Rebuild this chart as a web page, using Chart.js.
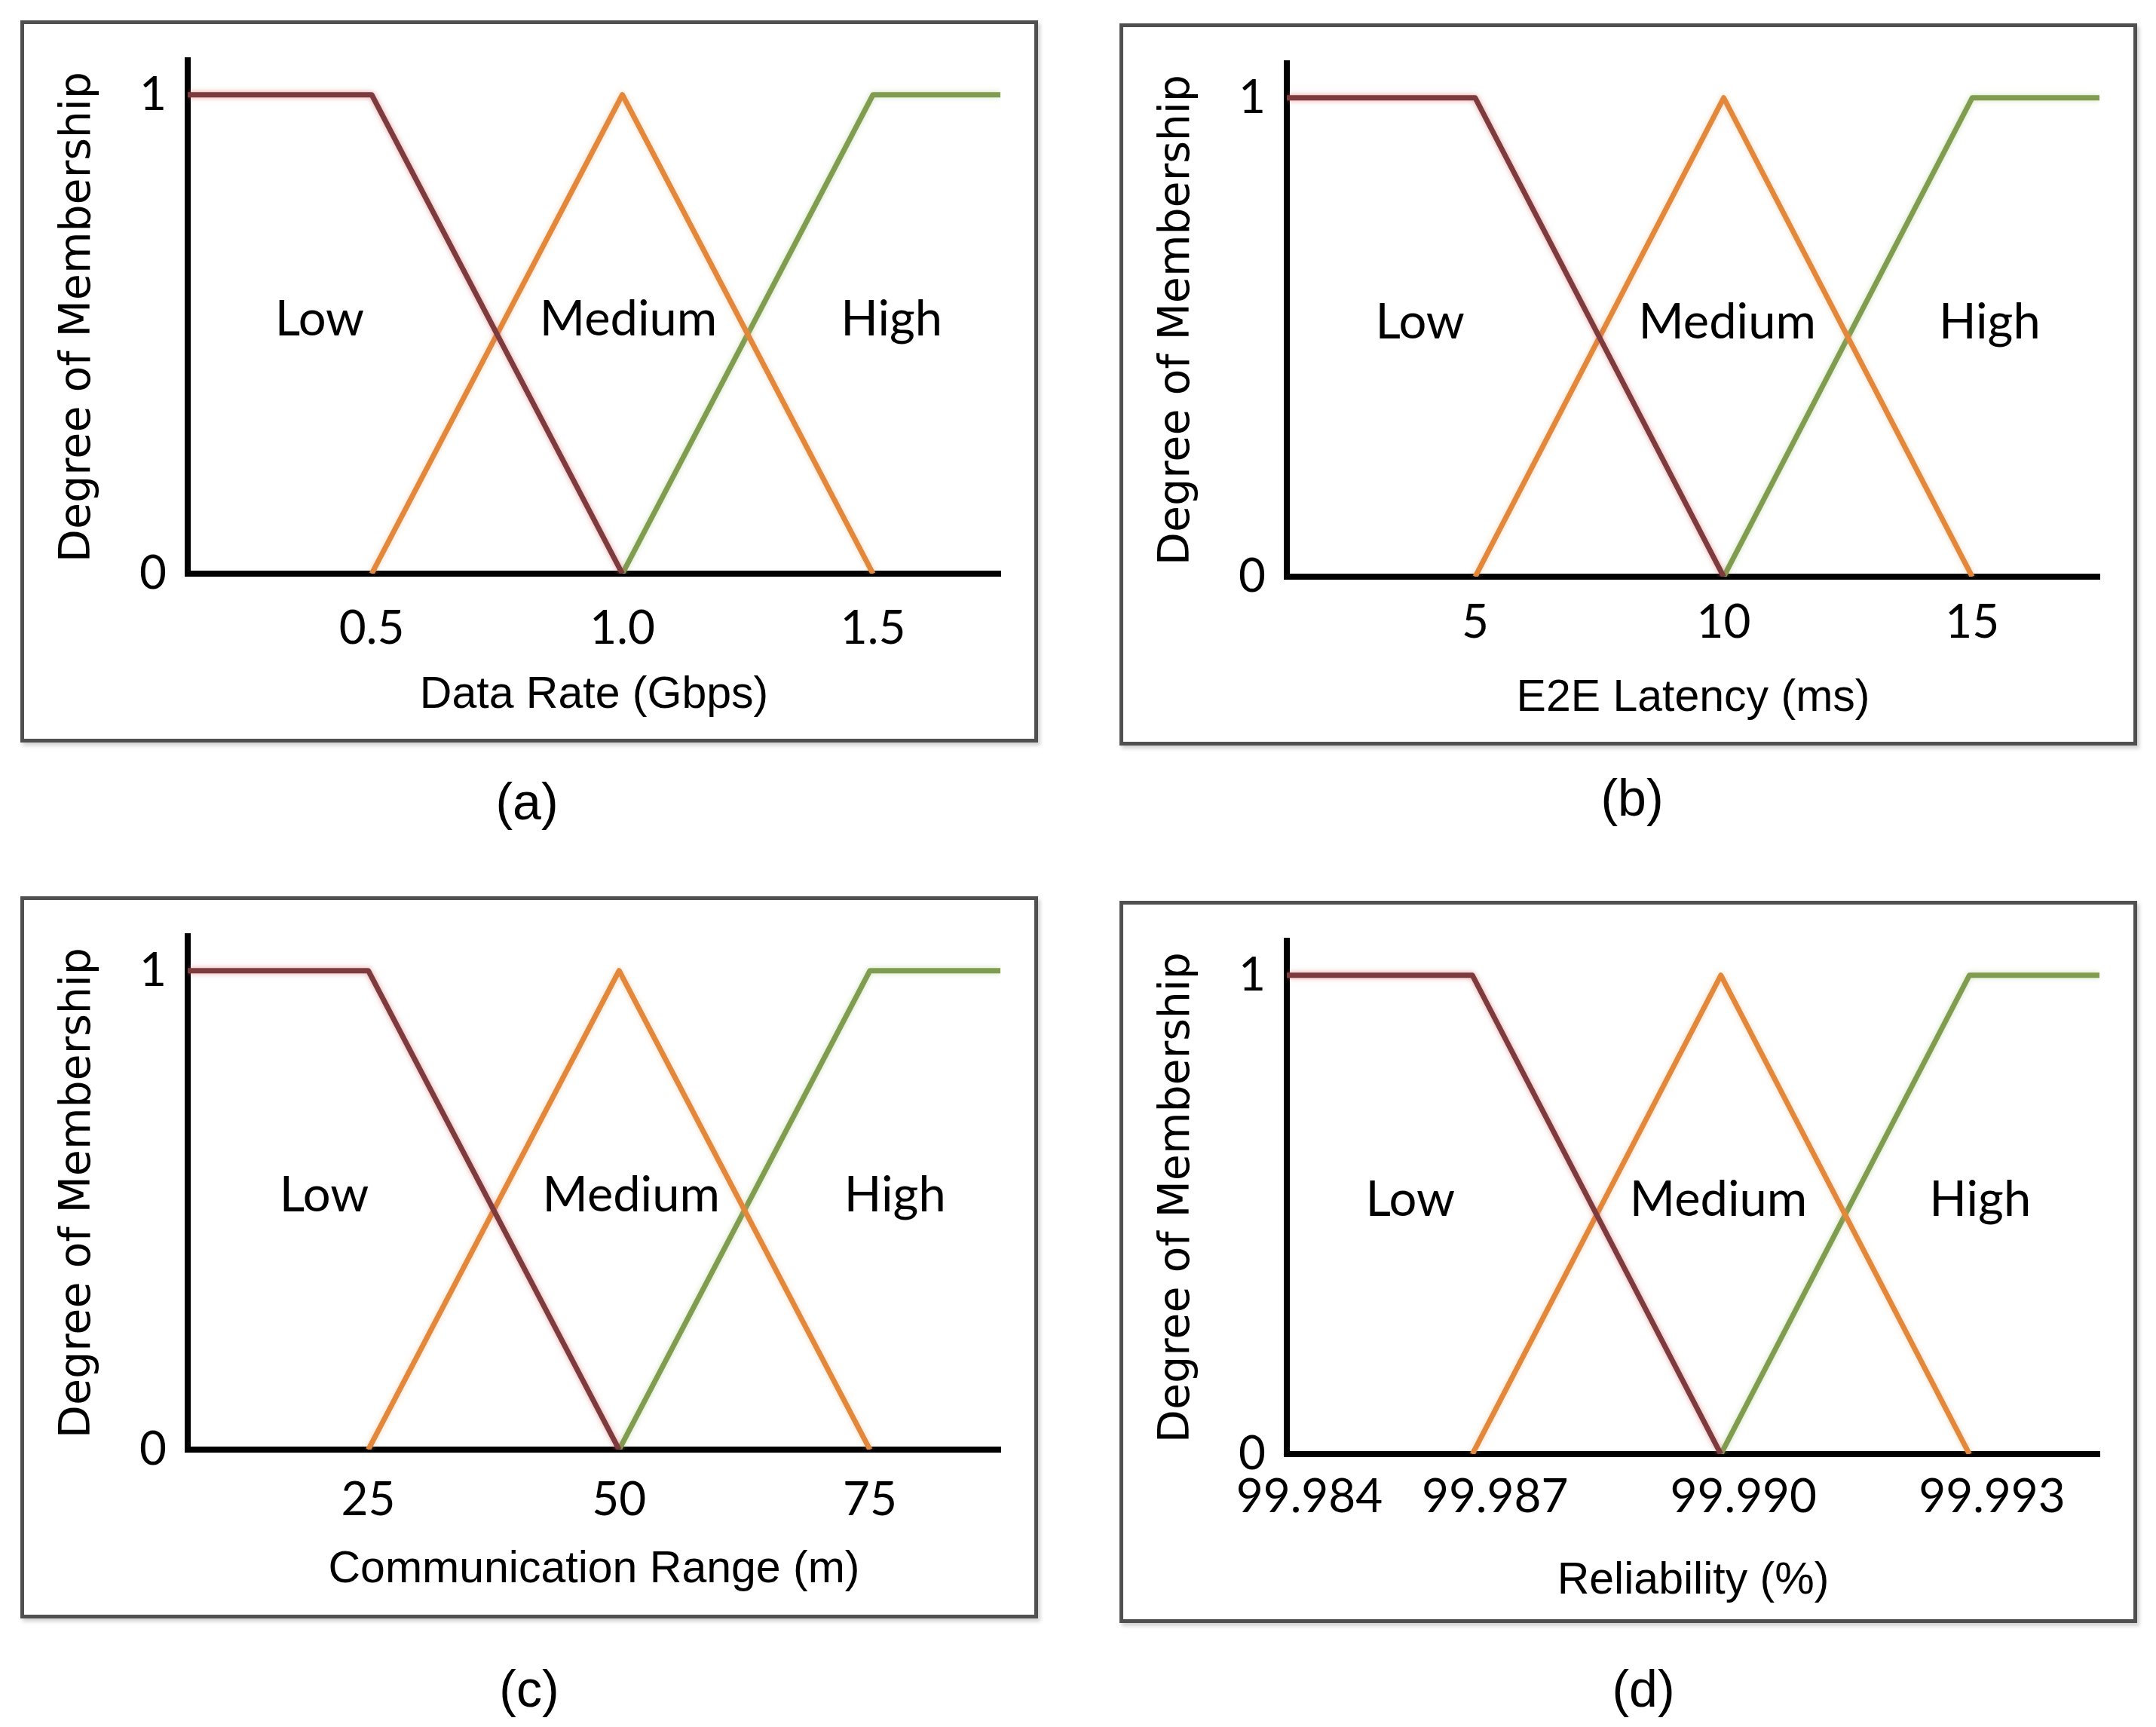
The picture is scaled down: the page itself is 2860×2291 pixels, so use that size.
<!DOCTYPE html>
<html>
<head>
<meta charset="utf-8">
<script src="https://cdn.jsdelivr.net/npm/chart.js@4.4.0/dist/chart.umd.min.js"></script>
<style>
    body { margin: 0; background: #fff; width: 2860px; height: 2291px; position: relative; overflow: hidden; }
    .panel { position: absolute; width: 1350px; height: 958px; box-sizing: border-box; border: 5px solid #505050;
             box-shadow: 3px 4px 5px rgba(0, 0, 0, 0.18); background: #fff; }
    .panel canvas { position: absolute; left: 0; top: 0; }
    .caption { position: absolute; font-family: 'Liberation Sans', Arial, sans-serif; font-size: 68px; color: #000;
               transform: translate(-50%, -50%); }
</style>
</head>
<body>
<div class="panel" style="left:27px;top:27px"><canvas id="chart-a" width="1340" height="948"></canvas></div>
<div class="panel" style="left:1485px;top:31px"><canvas id="chart-b" width="1340" height="948"></canvas></div>
<div class="panel" style="left:27px;top:1189px"><canvas id="chart-c" width="1340" height="948"></canvas></div>
<div class="panel" style="left:1485px;top:1195px"><canvas id="chart-d" width="1340" height="948"></canvas></div>
<div class="caption" style="left:699px;top:1063px">(a)</div>
<div class="caption" style="left:2165px;top:1058px">(b)</div>
<div class="caption" style="left:702px;top:2240px">(c)</div>
<div class="caption" style="left:2180px;top:2240px">(d)</div>

<script>
// Membership degree at each breakpoint (axis start, low end, medium peak, high start, axis end)
const membershipLow = [1, 1, 0, null, null];
const membershipMedium = [null, 0, 1, 0, null];
const membershipHigh = [null, null, 0, 1, 1];
const setNames = ['Low', 'Medium', 'High'];
const degreeTicks = [0, 1];
const labelDegree = 0.53;

// (a) Data rate
const rateX = [0.133, 0.5, 1.0, 1.5, 1.754];
const rateTicks = [0.5, 1.0, 1.5];
const rateTickLabels = ['0.5', '1.0', '1.5'];
const rateLabelX = [0.396, 1.012, 1.537];

// (b) E2E latency
const latencyX = [1.21, 5, 10, 15, 17.56];
const latencyTicks = [5, 10, 15];
const latencyTickLabels = ['5', '10', '15'];
const latencyLabelX = [3.89, 10.07, 15.35];

// (c) Communication range
const rangeX = [7, 25, 50, 75, 88];
const rangeTicks = [25, 50, 75];
const rangeTickLabels = ['25', '50', '75'];
const rangeLabelX = [20.6, 51.2, 77.5];

// (d) Reliability
const reliabilityX = [99.98476, 99.987, 99.990, 99.993, 99.99457];
const reliabilityTicks = [99.98476, 99.987, 99.990, 99.993];
const reliabilityTickLabels = ['99.984', '99.987', '99.990', '99.993'];
const reliabilityLabelX = [99.98625, 99.98997, 99.99313];

const lineColors = ['#7d3b3e', '#e3873a', '#7f9c4f'];
const glowColors = ['rgba(210, 100, 100, 0.6)', 'rgba(240, 170, 110, 0.45)', 'rgba(150, 190, 110, 0.45)'];

// soft halo around each membership line
const lineGlow = {
    id: 'lineGlow',
    beforeDatasetDraw(chart, args) {
        chart.ctx.save();
        chart.ctx.shadowColor = glowColors[args.index];
        chart.ctx.shadowBlur = 7;
    },
    afterDatasetDraw(chart) {
        chart.ctx.restore();
    }
};

// Low / Medium / High captions inside the plot
const regionLabels = {
    id: 'regionLabels',
    afterDatasetsDraw(chart, args, opts) {
        const { ctx, scales: { x, y } } = chart;
        ctx.save();
        ctx.font = '65px Lato';
        ctx.fillStyle = '#000';
        ctx.textAlign = 'center';
        ctx.textBaseline = 'middle';
        opts.xs.forEach((v, i) => {
            ctx.fillText(setNames[i], x.getPixelForValue(v), y.getPixelForValue(labelDegree));
        });
        ctx.restore();
    }
};

function makeChart(id, xs, ticks, tickLabels, labelX, xTitle, opt) {
    const series = [membershipLow, membershipMedium, membershipHigh];
    const ctx = document.getElementById(id).getContext('2d');
    return new Chart(ctx, {
        type: 'line',
        data: {
            datasets: series.map((deg, k) => ({
                label: setNames[k],
                data: xs.map((x, i) => ({ x: x, y: deg[i] })),
                borderColor: lineColors[k],
                borderWidth: 7,
                borderJoinStyle: 'round',
                pointRadius: 0,
                tension: 0,
                spanGaps: false
            }))
        },
        options: {
            responsive: false,
            animation: false,
            devicePixelRatio: 1,
            layout: { padding: { top: 48, right: 45, left: 0, bottom: 0 } },
            plugins: {
                legend: { display: false },
                tooltip: { enabled: false },
                regionLabels: { xs: labelX }
            },
            scales: {
                x: {
                    type: 'linear',
                    min: xs[0],
                    max: xs[xs.length - 1],
                    grid: { display: false, drawTicks: false },
                    border: { display: true, color: '#000', width: 8 },
                    afterBuildTicks: (scale) => { scale.ticks = ticks.map(v => ({ value: v })); },
                    afterFit: (scale) => {
                        scale.height = 219;
                        scale.paddingLeft = 0;
                        scale.paddingRight = 0;
                    },
                    ticks: {
                        autoSkip: false,
                        maxRotation: 0,
                        padding: opt.tickPad,
                        labelOffset: opt.shift,
                        color: '#000',
                        font: { family: 'Lato', size: 62 },
                        callback: (value, index) => tickLabels[index]
                    },
                    title: {
                        display: true,
                        text: xTitle,
                        color: '#000',
                        font: { family: "'Liberation Sans', Arial, sans-serif", size: 59 },
                        padding: { top: 0, bottom: opt.titlePad }
                    }
                },
                y: {
                    min: 0,
                    max: 1.072,
                    grid: { display: false, drawTicks: false },
                    border: { display: true, color: '#000', width: 8 },
                    afterBuildTicks: (scale) => { scale.ticks = degreeTicks.map(v => ({ value: v })); },
                    afterFit: (scale) => {
                        scale.width = 217;
                        scale.paddingTop = 0;
                        scale.paddingBottom = 0;
                    },
                    ticks: {
                        padding: 28,
                        color: '#000',
                        font: { family: 'Lato', size: 62 },
                        callback: (value) => String(value)
                    },
                    title: {
                        display: true,
                        text: 'Degree of Membership',
                        color: '#000',
                        font: { family: "'DejaVu Sans', Verdana, sans-serif", size: 57 },
                        padding: { top: 38, bottom: 0 }
                    }
                }
            }
        },
        plugins: [lineGlow, regionLabels]
    });
}

makeChart('chart-a', rateX, rateTicks, rateTickLabels, rateLabelX, 'Data Rate (Gbps)',
    { tickPad: 36, titlePad: 22, shift: 0 });
makeChart('chart-b', latencyX, latencyTicks, latencyTickLabels, latencyLabelX, 'E2E Latency (ms)',
    { tickPad: 24, titlePad: 22, shift: 0 });
makeChart('chart-c', rangeX, rangeTicks, rangeTickLabels, rangeLabelX, 'Communication Range (m)',
    { tickPad: 30, titlePad: 24, shift: 0 });
makeChart('chart-d', reliabilityX, reliabilityTicks, reliabilityTickLabels, reliabilityLabelX, 'Reliability (%)',
    { tickPad: 20, titlePad: 15, shift: 30 });
</script>
</body>
</html>
